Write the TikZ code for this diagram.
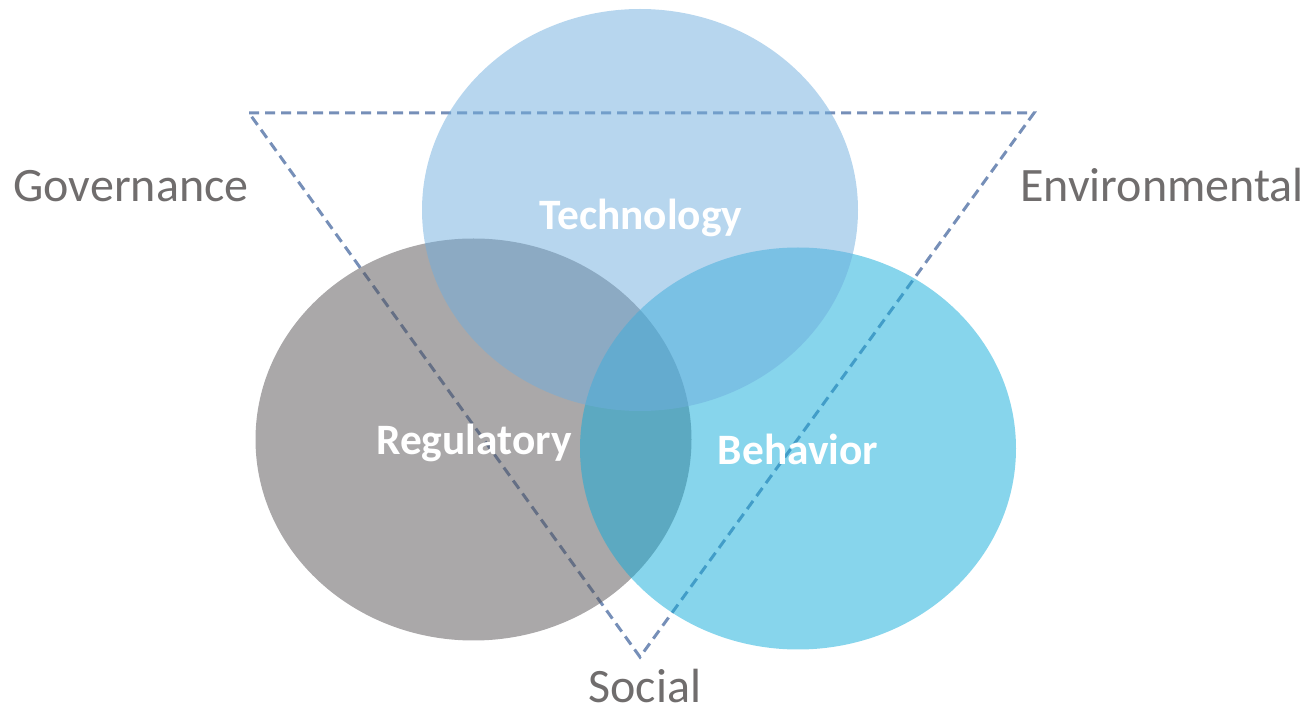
\documentclass[tikz,border=0pt]{standalone}
\usepackage{fontspec}
\setmainfont{Carlito}
\usepackage{tikz}
\usetikzlibrary{shapes.geometric}

\definecolor{techblue}{RGB}{111,173,221}
\definecolor{reggray}{RGB}{85,81,83}
\definecolor{behcyan}{RGB}{15,171,217}
\definecolor{trianglecol}{RGB}{118,143,184}
\definecolor{aspectgray}{RGB}{112,109,109}

\begin{document}
\begin{tikzpicture}[x=0.5pt,y=0.5pt]
            \tikzstyle{blob}=[ellipse,draw=none,fill opacity=0.5,inner sep=0pt,outer sep=0pt,
                minimum width=218pt,minimum height=201pt]
            \tikzstyle{blobtext}=[text=white,anchor=base,inner sep=0pt,font=\fontsize{21.7}{26}\selectfont\bfseries]
            \tikzstyle{aspect}=[text=aspectgray,anchor=base,inner sep=0pt,font=\fontsize{24}{29}\selectfont]
            \useasboundingbox (0,0) rectangle (1314,713);

            \coordinate (T-left) at (249,600);
            \coordinate (T-right) at (1034,600);
            \coordinate (T-bottom) at (640,56);
            \draw[trianglecol,line width=1.5pt,dash pattern=on 5pt off 3pt]
                (T-left) -- (T-right) -- (T-bottom) -- cycle;

            \foreach \name/\x/\y/\col in {reg/473.5/273.5/reggray, beh/798/264.5/behcyan, tech/640/503/techblue}
                \node[blob,fill=\col] (V-\name) at (\x,\y) {};

            \foreach \name/\x/\y/\txt in {reg/474/258/Regulatory, beh/798/248/Behavior, tech/641/483/Technology}
                \node[blobtext] (L-\name) at (\x,\y) {\txt};

            \node[aspect] (A-gov) at (131,511) {Governance};
            \node[aspect] (A-env) at (1162,511) {Environmental};
            \node[aspect] (A-soc) at (645,10) {Social};
        \end{tikzpicture}
\end{document}
